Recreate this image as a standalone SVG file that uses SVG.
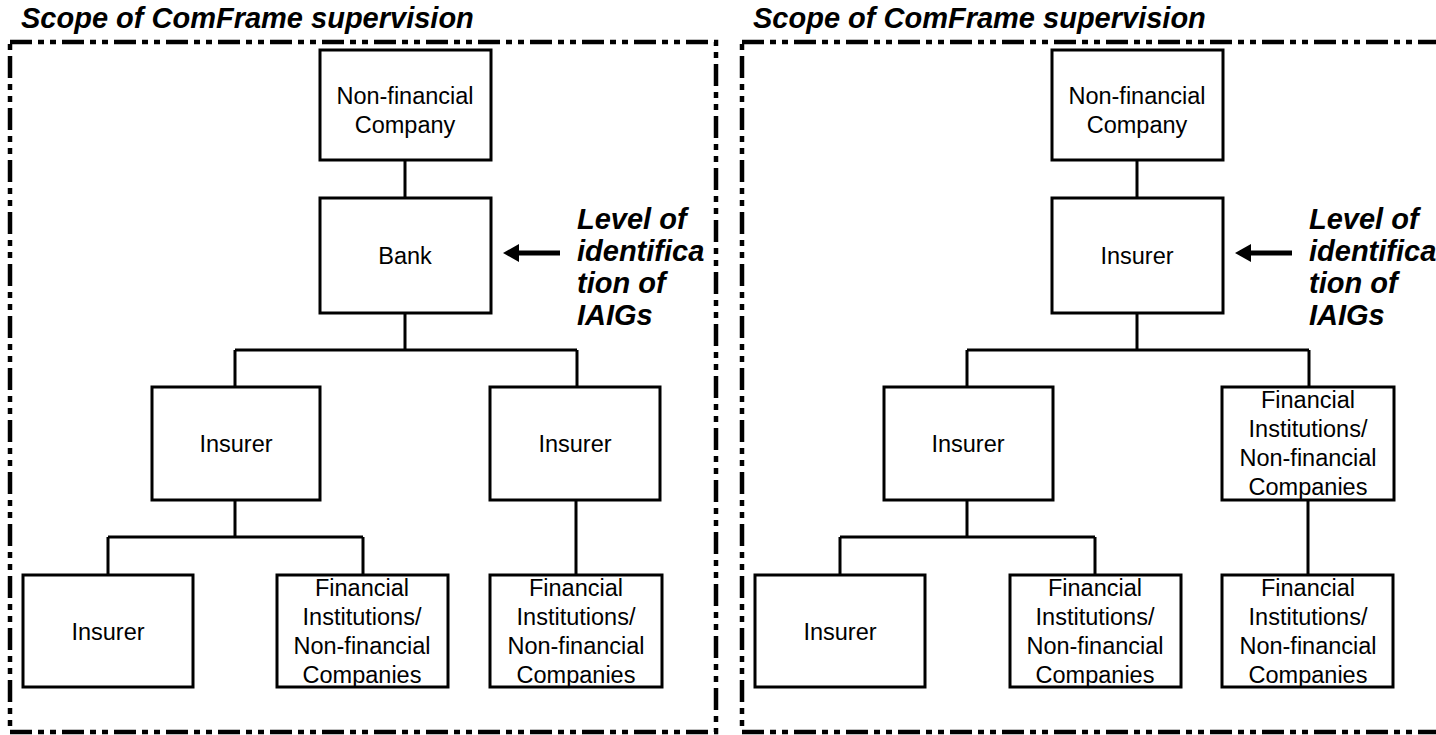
<svg xmlns="http://www.w3.org/2000/svg" width="1436" height="735" viewBox="0 0 1436 735">
<style>
.box{fill:#fff;stroke:#000;stroke-width:3}
.frame{fill:none;stroke:#000;stroke-width:4.5;stroke-dasharray:22 6 6 6 6 6}
.con{fill:none;stroke:#000;stroke-width:3}
.t{font-family:"Liberation Sans",Arial,sans-serif;font-size:23.5px;fill:#000;text-anchor:middle}
.bi{font-family:"Liberation Sans",Arial,sans-serif;font-size:29px;font-weight:bold;font-style:italic;fill:#000}
</style>
<rect width="1436" height="735" fill="#fff"/>
<g id="panel-left-frame">
<text class="bi" x="21" y="28">Scope of ComFrame supervision</text>
<rect class="frame" x="10" y="42" width="706" height="690"/>
</g>
<g id="panel-right-frame">
<text class="bi" x="753" y="28">Scope of ComFrame supervision</text>
<rect class="frame" x="742" y="42" width="706" height="690"/>
</g>
<g id="connectors">
<path class="con" d="M405 160V198M405 313V350M235 350H577M235 350V387M577 350V387M235 500V537M108 537H363M108 537V575M363 537V575M576 500V575"/>
<path class="con" d="M1137 160V198M1137 313V350M967 350H1309M967 350V387M1309 350V387M967 500V537M840 537H1095M840 537V575M1095 537V575M1308 500V575"/>
<path d="M503 253L519 244V250.5H560V255.5H519V262Z" fill="#000"/>
<path d="M1235 253L1251 244V250.5H1292V255.5H1251V262Z" fill="#000"/>
</g>
<g id="label-left">
<text class="bi" x="577"><tspan x="577" y="229">Level of</tspan><tspan x="577" y="261">identifica</tspan><tspan x="577" y="293">tion of</tspan><tspan x="577" y="325">IAIGs</tspan></text>
</g>
<g id="label-right">
<text class="bi" x="1309"><tspan x="1309" y="229">Level of</tspan><tspan x="1309" y="261">identifica</tspan><tspan x="1309" y="293">tion of</tspan><tspan x="1309" y="325">IAIGs</tspan></text>
</g>
<g id="L-nonfin">
<rect class="box" x="320" y="50" width="171" height="110"/>
<text class="t" x="405"><tspan x="405" y="104">Non-financial</tspan><tspan x="405" y="133">Company</tspan></text>
</g>
<g id="L-bank">
<rect class="box" x="320" y="198" width="171" height="115"/>
<text class="t" x="405" y="264">Bank</text>
</g>
<g id="L-ins1">
<rect class="box" x="152" y="387" width="168" height="113"/>
<text class="t" x="236" y="452">Insurer</text>
</g>
<g id="L-ins2">
<rect class="box" x="490" y="387" width="170" height="113"/>
<text class="t" x="575" y="452">Insurer</text>
</g>
<g id="L-ins3">
<rect class="box" x="23" y="575" width="170" height="112"/>
<text class="t" x="108" y="640">Insurer</text>
</g>
<g id="L-fi1">
<rect class="box" x="277" y="575" width="171" height="112"/>
<text class="t" x="362"><tspan x="362" y="596">Financial</tspan><tspan x="362" y="625">Institutions/</tspan><tspan x="362" y="654">Non-financial</tspan><tspan x="362" y="683">Companies</tspan></text>
</g>
<g id="L-fi2">
<rect class="box" x="490" y="575" width="172" height="112"/>
<text class="t" x="576"><tspan x="576" y="596">Financial</tspan><tspan x="576" y="625">Institutions/</tspan><tspan x="576" y="654">Non-financial</tspan><tspan x="576" y="683">Companies</tspan></text>
</g>
<g id="R-nonfin">
<rect class="box" x="1052" y="50" width="171" height="110"/>
<text class="t" x="1137"><tspan x="1137" y="104">Non-financial</tspan><tspan x="1137" y="133">Company</tspan></text>
</g>
<g id="R-insurer-top">
<rect class="box" x="1052" y="198" width="171" height="115"/>
<text class="t" x="1137" y="264">Insurer</text>
</g>
<g id="R-ins1">
<rect class="box" x="884" y="387" width="169" height="113"/>
<text class="t" x="968" y="452">Insurer</text>
</g>
<g id="R-fi-mid">
<rect class="box" x="1222" y="387" width="172" height="113"/>
<text class="t" x="1308"><tspan x="1308" y="408">Financial</tspan><tspan x="1308" y="437">Institutions/</tspan><tspan x="1308" y="466">Non-financial</tspan><tspan x="1308" y="495">Companies</tspan></text>
</g>
<g id="R-ins3">
<rect class="box" x="755" y="575" width="170" height="112"/>
<text class="t" x="840" y="640">Insurer</text>
</g>
<g id="R-fi1">
<rect class="box" x="1010" y="575" width="171" height="112"/>
<text class="t" x="1095"><tspan x="1095" y="596">Financial</tspan><tspan x="1095" y="625">Institutions/</tspan><tspan x="1095" y="654">Non-financial</tspan><tspan x="1095" y="683">Companies</tspan></text>
</g>
<g id="R-fi2">
<rect class="box" x="1222" y="575" width="171" height="112"/>
<text class="t" x="1308"><tspan x="1308" y="596">Financial</tspan><tspan x="1308" y="625">Institutions/</tspan><tspan x="1308" y="654">Non-financial</tspan><tspan x="1308" y="683">Companies</tspan></text>
</g>
</svg>
